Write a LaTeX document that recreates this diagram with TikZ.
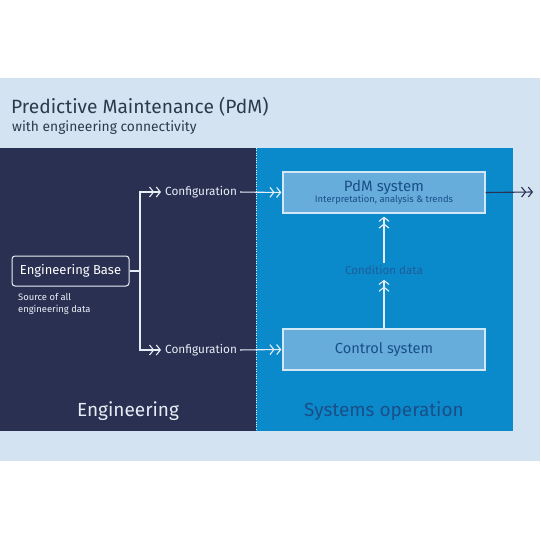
\documentclass[tikz,border=0pt]{standalone}
\usepackage{fontspec}
\setmainfont{Fira Sans}
\usetikzlibrary{arrows.meta,positioning}
\definecolor{bandblue}{HTML}{D3E3F1}
\definecolor{navy}{HTML}{2A3052}
\definecolor{opblue}{HTML}{0B8ACB}
\definecolor{boxblue}{HTML}{66ADDC}
\definecolor{boxline}{HTML}{D2E8F6}
\definecolor{titlegray}{HTML}{2E3A4C}
\definecolor{deepblue}{HTML}{1A4E88}
\definecolor{conblue}{HTML}{1F5C9A}
\definecolor{paleline}{HTML}{E6EDF5}
\tikzset{
  chev/.tip={Straight Barb[length=4pt,width=10pt,line width=1.1pt,sep=1.5pt]Straight Barb[length=4pt,width=10pt,line width=1.1pt]},
  wire/.style={draw=paleline,line width=1.1pt},
  flow/.style={wire,-chev},
  sysbox/.style={draw=boxline,line width=1.3pt,fill=boxblue,minimum width=202pt,minimum height=41pt,inner sep=0pt,align=center},
  cfgtext/.style={inner sep=0pt,anchor=west,text=paleline,font=\fontsize{11.8}{12}\selectfont},
  paneltext/.style={font=\fontsize{19}{20}\selectfont}
}
\begin{document}
\begin{tikzpicture}[x=1pt,y=-1pt]
  \useasboundingbox (0,0) rectangle (540,540);
  \fill[white] (0,0) rectangle (540,540);
  \fill[bandblue] (0,78) rectangle (540,461);
  % heading
  \node[anchor=base west,inner sep=0pt,text=titlegray,font=\fontsize{19.2}{20}\selectfont] (title) at (11,114) {Predictive Maintenance (PdM)};
  \node[anchor=base west,inner sep=0pt,text=titlegray,font=\fontsize{13.8}{14}\selectfont] (subtitle) at (12,132) {with engineering connectivity};
  % the two panels
  \fill[navy] (0,148) rectangle (256,431);
  \fill[opblue] (256,148) rectangle (513,431);
  \draw[dotted,paleline!70] (256,148) -- (256,431);
  \node[paneltext,text=paleline] (englbl) at (128,411) {Engineering};
  \node[paneltext,text=deepblue] (oplbl) at (384,411) {Systems operation};
  % engineering side
  \node[draw=paleline!80,line width=1pt,rounded corners=3pt,minimum width=117pt,minimum height=30pt,text=white,font=\fontsize{13}{14}\selectfont] (eb) at (70.5,271) {Engineering Base};
  \node[anchor=north west,inner sep=0pt,align=left,text=paleline!85,font=\fontsize{9.4}{12}\selectfont] (src) at (18,293.5) {Source of all\\engineering data};
  \coordinate (fork) at (140,271);
  \node[cfgtext] (cfgtop) at (165,192) {Configuration};
  \node[cfgtext] (cfgbot) at (165,350) {Configuration};
  % systems side
  \node[sysbox,text=deepblue] (pdm) at (384,192.5) {{\fontsize{15}{15}\selectfont PdM system}\\[-1.5pt]{\fontsize{9.4}{10}\selectfont Interpretation, analysis \& trends}};
  \node[sysbox,text=deepblue,font=\fontsize{14.6}{15}\selectfont] (ctrl) at (384,349.5) {Control system};
  \node[inner sep=0pt,text=conblue,font=\fontsize{11.6}{12}\selectfont] (cond) at (384,270) {Condition data};
  \coordinate (out) at (533,192);
  % connectors
  \draw[wire] (eb.east) -- (fork);
  \draw[flow,shorten >=4pt] (fork) |- (cfgtop.west);
  \draw[flow,shorten >=4pt] (fork) |- (cfgbot.west);
  \draw[flow,shorten <=3pt,shorten >=1pt] (cfgtop.east) -- (pdm.west);
  \draw[flow,shorten <=3pt,shorten >=1pt] (cfgbot.east) -- (ctrl.west);
  \draw[flow,shorten >=5pt] (ctrl.north) -- (cond.south);
  \draw[flow,shorten <=2pt,shorten >=3pt] (cond.north) -- (pdm.south);
  \draw[flow,draw=navy] (pdm.east) -- (out);
\end{tikzpicture}
\end{document}
